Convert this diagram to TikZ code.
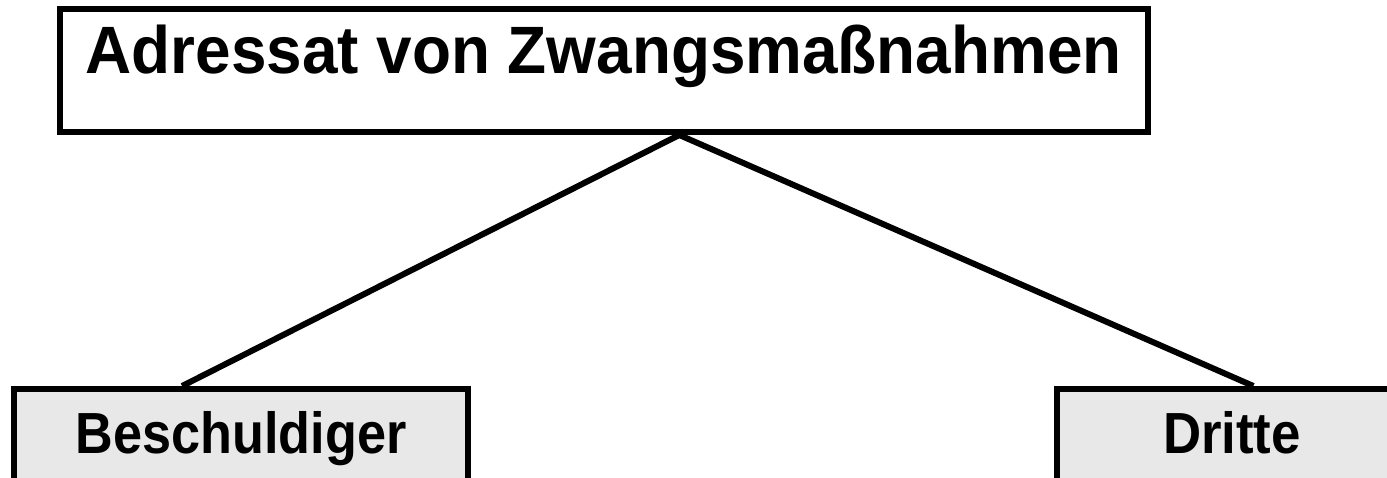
\documentclass[tikz,border=0pt]{standalone}
\usepackage{fontspec}
\setmainfont{Liberation Sans}
\usetikzlibrary{calc,backgrounds}
\definecolor{boxgray}{HTML}{E8E8E8}
\newcommand{\narrowtext}[2]{\scalebox{#1}[1]{#2}}
\tikzset{
  frame/.style={draw=black, line width=6pt, rectangle, inner sep=0pt},
  headbox/.style={frame, fill=white, minimum width=1088.5pt, minimum height=123pt,
    text height=30pt, text depth=24.4pt, font=\fontsize{67}{80}\selectfont\bfseries},
  leafbox/.style={frame, fill=boxgray, minimum height=96pt,
    text height=50pt, text depth=17.4pt, font=\fontsize{58}{70}\selectfont\bfseries},
  link/.style={draw=black, line width=6pt}
}
\begin{document}
\begin{tikzpicture}[x=1pt, y=-1pt]
  \useasboundingbox (0,0) rectangle (1387,478);
  \clip (0,0) rectangle (1387,478);
  % category and its two kinds of addressees
  \node[headbox] (head) at (603.75,70.5) {\narrowtext{0.953}{Adressat von Zwangsmaßnahmen}};
  \node[leafbox, minimum width=454pt] (accused) at (241,437) {\narrowtext{0.90}{Beschuldiger}};
  \node[leafbox, minimum width=350pt] (third) at (1232,437) {\narrowtext{0.91}{Dritte}};
  % branches, kept behind the boxes
  \coordinate (apex) at ($(head.south west)!0.569!(head.south east)$);
  \coordinate (endA) at ($(accused.north west)!0.372!(accused.north east)$);
  \coordinate (endT) at ($(third.north west)!0.56!(third.north east)$);
  \begin{scope}[on background layer]
    \draw[link] (apex) -- (endA);
    \draw[link] (apex) -- (endT);
  \end{scope}
\end{tikzpicture}
\end{document}
